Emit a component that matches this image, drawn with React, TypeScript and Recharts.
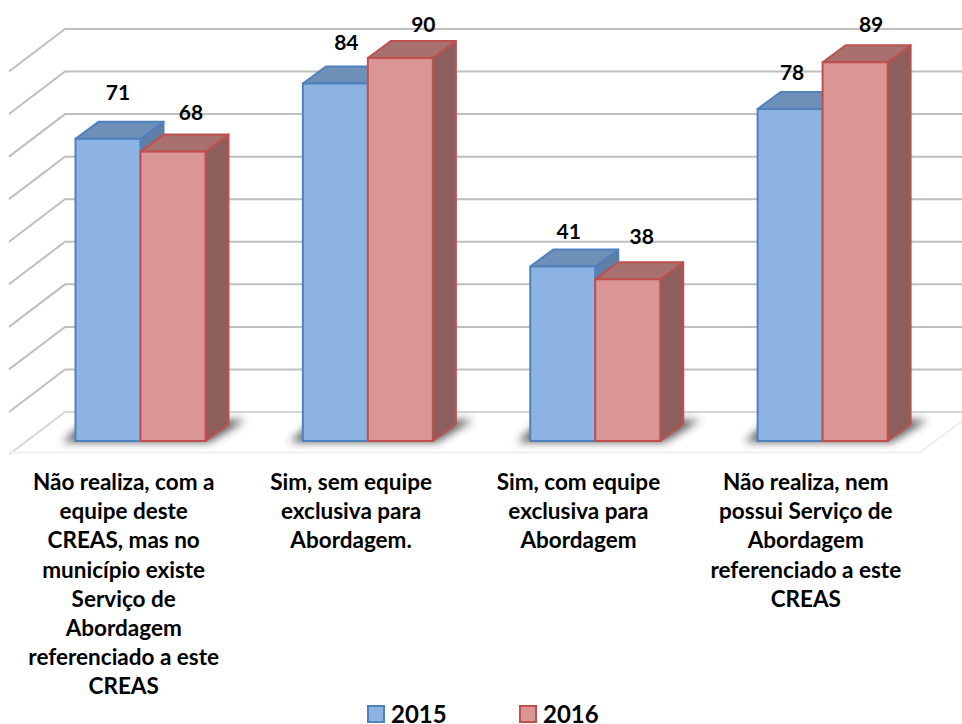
import React from "react";
import { BarChart, Bar, XAxis, YAxis, CartesianGrid, Legend, LabelList } from "recharts";

const categories = [
  "Não realiza, com a\nequipe deste\nCREAS, mas no\nmunicípio existe\nServiço de\nAbordagem\nreferenciado a este\nCREAS",
  "Sim, sem equipe\nexclusiva para\nAbordagem.",
  "Sim, com equipe\nexclusiva para\nAbordagem",
  "Não realiza, nem\npossui Serviço de\nAbordagem\nreferenciado a este\nCREAS",
];
const values2015 = [71, 84, 41, 78];
const values2016 = [68, 90, 38, 89];
const yTicks = [0, 10, 20, 30, 40, 50, 60, 70, 80, 90];

const chartData = categories.map((name, i) => ({
  name,
  y2015: values2015[i],
  y2016: values2016[i],
}));

// hand placed labels in the original, offsets from the bar's top-centre
const labelNudge2015 = [
  [10, -47],
  [11, -42],
  [6, -36],
  [2, -37],
];
const labelNudge2016 = [
  [18, -40],
  [23, -34],
  [14, -43],
  [16, -38],
];

const FONT = "Lato, Carlito, sans-serif";
const PLOT_BOTTOM = 441;
const GRID = "#bfbfbf";
const DX = 23;
const DY = 17;

const blue = { front: "#8db3e2", edge: "#4f81bd", top: "#6e8fb8", side: "#5f7fa6" };
const red = { front: "#d99694", edge: "#c0504d", top: "#a6716e", side: "#8c5f5d" };

function box(props: any, c: typeof blue, withShadow: boolean) {
  const { x, y, width: w, height: h } = props;
  const base = y + h;
  return (
    <g>
      {withShadow && (
        <g>
          <defs>
            <filter id="floorBlur" x="-20%" y="-60%" width="140%" height="220%">
              <feGaussianBlur stdDeviation="4" />
            </filter>
          </defs>
          <polygon
            points={`${x - 13},${base + 1} ${x + 2 * w + 4},${base + 1} ${x + 2 * w + DX + 17},${base - 21} ${x + 12},${base - 21}`}
            fill="#333"
            opacity={0.8}
            filter="url(#floorBlur)"
          />
        </g>
      )}
      <polygon
        points={`${x + w},${y} ${x + w + DX},${y - DY} ${x + w + DX},${base - DY} ${x + w},${base}`}
        fill={c.side}
        stroke={c.edge}
        strokeWidth={2}
        strokeLinejoin="round"
      />
      <polygon
        points={`${x},${y} ${x + DX},${y - DY} ${x + w + DX},${y - DY} ${x + w},${y}`}
        fill={c.top}
        stroke={c.edge}
        strokeWidth={2}
        strokeLinejoin="round"
      />
      <rect x={x} y={y} width={w} height={h} fill={c.front} stroke={c.edge} strokeWidth={2} />
    </g>
  );
}

function gridLine(props: any) {
  const { x1, x2, y1, key } = props;
  const back = y1 - 29;
  const wallX = x1 + 38.5;
  const frontX = x1 - 17.5;
  const isFloor = Math.abs(y1 - PLOT_BOTTOM) < 1;
  return (
    <g key={key} fill="none">
      <path d={`M${frontX},${back + 42.5} L${wallX},${back} L962,${back}`} stroke={isFloor ? "#d6d6d6" : GRID} strokeWidth={2} />
      {isFloor && (
        <path d={`M${frontX},${back + 40.5} L${x2 - 16},${back + 40.5} L962,${back + 9}`} stroke="#eeeeee" strokeWidth={2} />
      )}
    </g>
  );
}

function AxisTick(props: any) {
  const { x, y, payload } = props;
  const lines: string[] = payload.value.split("\n");
  return (
    <text x={x - 16.5} y={y} textAnchor="middle" fontFamily={FONT} fontWeight={700} fontSize={22.5} fill="#000">
      {lines.map((line, i) => (
        <tspan key={i} x={x - 16.5} y={y + 41 + i * 29.2}>
          {line}
        </tspan>
      ))}
    </text>
  );
}

function valueLabel(nudges: number[][]) {
  return (props: any) => {
    const { x, y, width, value, index } = props;
    const [nx, ny] = nudges[index];
    return (
      <text x={x + width / 2 + nx} y={y + ny + 8} textAnchor="middle" fontFamily={FONT} fontWeight={700} fontSize={21} fill="#000">
        {value}
      </text>
    );
  };
}

function LegendRow(props: any) {
  const lefts = [340.5, 492.5];
  const edges = [blue.edge, red.edge];
  return (
    <div style={{ position: "relative", height: 30, fontFamily: FONT, fontWeight: 700, fontSize: 24, lineHeight: "20px", color: "#000" }}>
      {props.payload.map((item: any, i: number) => (
        <div key={item.value} style={{ position: "absolute", left: lefts[i], top: 10, height: 20, display: "flex", alignItems: "center" }}>
          <span
            style={{
              width: 14,
              height: 14,
              background: item.color,
              border: `2px solid ${edges[i]}`,
              marginRight: 6,
              display: "inline-block",
            }}
          />
          {item.value}
        </div>
      ))}
    </div>
  );
}

export default function App() {
  return (
    <div style={{ position: "absolute", left: 0, top: 0, width: 962, height: 724, background: "#fff", overflow: "hidden" }}>
      <BarChart
        width={962}
        height={724}
        data={chartData}
        barSize={65}
        barGap={0}
        margin={{ top: 58, right: 26, bottom: 0, left: 26.5 }}
      >
        <CartesianGrid vertical={false} horizontal={gridLine} />
        <XAxis dataKey="name" axisLine={false} tickLine={false} interval={0} height={253} tick={AxisTick} />
        <YAxis hide domain={[0, 90]} ticks={yTicks} />
        <Legend height={30} verticalAlign="bottom" content={LegendRow} />
        <Bar dataKey="y2015" name="2015" fill={blue.front} isAnimationActive={false} shape={(p: any) => box(p, blue, true)}>
          <LabelList dataKey="y2015" content={valueLabel(labelNudge2015)} />
        </Bar>
        <Bar dataKey="y2016" name="2016" fill={red.front} isAnimationActive={false} shape={(p: any) => box(p, red, false)}>
          <LabelList dataKey="y2016" content={valueLabel(labelNudge2016)} />
        </Bar>
      </BarChart>
    </div>
  );
}
